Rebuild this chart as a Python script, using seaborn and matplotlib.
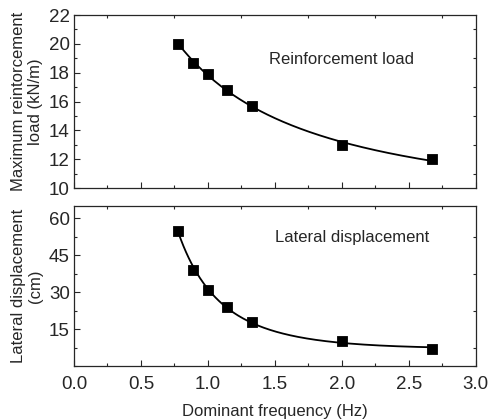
import numpy as np
import pandas as pd
import matplotlib
matplotlib.use("Agg")
import matplotlib.pyplot as plt
from matplotlib.ticker import MultipleLocator
import seaborn as sns

freq = [0.78, 0.89, 1.0, 1.14, 1.33, 2.0, 2.67]
load = [20.0, 18.7, 17.9, 16.8, 15.7, 13.0, 12.0]
disp = [55.0, 39.0, 31.0, 24.0, 18.0, 10.0, 7.0]

sns.set_style("ticks", {"xtick.direction": "in", "ytick.direction": "in"})
plt.rcParams['font.family'] = ['Liberation Sans', 'DejaVu Sans']

df = pd.DataFrame({"freq": freq, "load": load, "disp": disp})


def fit_curve(x, y):
    # least squares fit of y = a + b/x + c/x^2
    x = np.asarray(x)
    A = np.column_stack([np.ones_like(x), 1 / x, 1 / x ** 2])
    coef, *_ = np.linalg.lstsq(A, np.asarray(y), rcond=None)
    xs = np.linspace(x.min(), x.max(), 200)
    ys = coef[0] + coef[1] / xs + coef[2] / xs ** 2
    return xs, ys


fig = plt.figure(figsize=(4.93, 4.19), dpi=100)
ax1 = fig.add_axes([0.150, 0.5513, 0.815, 0.4129])
ax2 = fig.add_axes([0.150, 0.1265, 0.815, 0.3819])

for ax, col in [(ax1, "load"), (ax2, "disp")]:
    xs, ys = fit_curve(df["freq"], df[col])
    sns.lineplot(x=xs, y=ys, ax=ax, color="black", lw=1.3)
    sns.scatterplot(data=df, x="freq", y=col, ax=ax, marker="s", s=55,
                    color="black", edgecolor="black", zorder=3)
    ax.set_xlim(0, 3.0)
    ax.xaxis.set_major_locator(MultipleLocator(0.5))
    ax.xaxis.set_minor_locator(MultipleLocator(0.25))
    ax.tick_params(which="both", top=True, right=True, labelsize=13.5, pad=3)
    ax.tick_params(which="major", length=4, width=0.8)
    ax.tick_params(which="minor", length=2.5, width=0.8)
    ax.tick_params(axis="x", which="major", top=False)
    ax.tick_params(axis="y", which="major", right=False)
    for s in ax.spines.values():
        s.set_linewidth(0.9)

ax1.set_ylim(10, 22)
ax1.yaxis.set_major_locator(MultipleLocator(2))
ax1.yaxis.set_minor_locator(MultipleLocator(1))
ax1.set_xticklabels([])
ax1.set_xlabel("")
ax1.set_ylabel("Maximum reintorcement\nload (kN/m)", fontsize=12, linespacing=1.2)
ax1.text(2.0, 18.9, "Reinforcement load", ha="center", va="center", fontsize=12)

ax2.set_ylim(0, 65)
ax2.set_yticks([15, 30, 45, 60])
ax2.yaxis.set_minor_locator(MultipleLocator(7.5))
ax2.tick_params(axis="x", pad=7)
ax2.set_xlabel("Dominant frequency (Hz)", fontsize=12, labelpad=8)
ax2.set_ylabel("Lateral displacement\n(cm)", fontsize=12, linespacing=1.2)
ax2.text(2.08, 52, "Lateral displacement", ha="center", va="center", fontsize=12)

fig.align_ylabels([ax1, ax2])
fig.savefig("out.png", dpi=100)
